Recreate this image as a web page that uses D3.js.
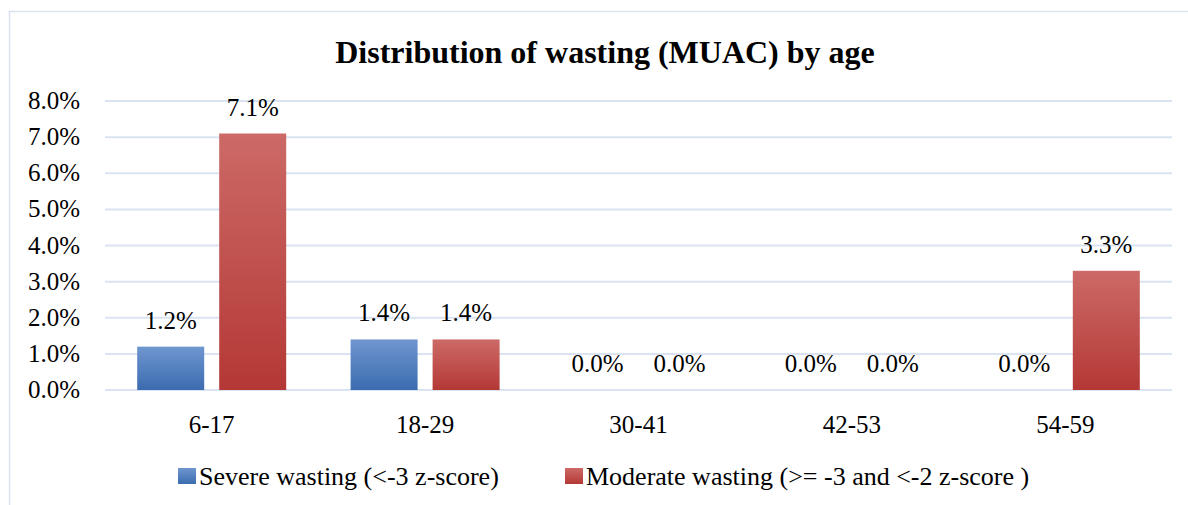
<!DOCTYPE html>
<html>
<head>
<meta charset="utf-8">
<script src="https://cdn.jsdelivr.net/npm/d3@7"></script>
<style>
	body { margin: 0; background: #fff; }
	text { font-family: "Liberation Serif", "Times New Roman", serif; fill: #000; }
</style>
</head>
<body>
<div id="chart"></div>
<script>
var categories = ["6-17", "18-29", "30-41", "42-53", "54-59"];
var severe = [1.2, 1.4, 0.0, 0.0, 0.0];
var moderate = [7.1, 1.4, 0.0, 0.0, 3.3];
var seriesNames = ["Severe wasting (<-3 z-score)", "Moderate wasting (>= -3 and <-2 z-score )"];
var yTicks = [0, 1, 2, 3, 4, 5, 6, 7, 8];

var width = 1188, height = 505;
var margin = {left: 105, right: 16, top: 101, bottom: 115};
var groupWidth = 149;

var svg = d3.select("#chart").append("svg")
	.attr("width", width)
	.attr("height", height);

var defs = svg.append("defs");
var grads = [
	{id: "g-blue", top: "#6f96d0", bottom: "#3b6caf"},
	{id: "g-red", top: "#cc6a67", bottom: "#b43835"}
];
grads.forEach(function(g){
	var lg = defs.append("linearGradient")
		.attr("id", g.id)
		.attr("x1", 0).attr("y1", 0).attr("x2", 0).attr("y2", 1);
	lg.append("stop").attr("offset", "0%").attr("stop-color", g.top);
	lg.append("stop").attr("offset", "100%").attr("stop-color", g.bottom);
});

// chart frame
svg.append("path")
	.attr("d", "M9.5," + height + "V11.5H" + width)
	.attr("fill", "none")
	.attr("stroke", "#d9e2ef")
	.attr("stroke-width", 1.5);

svg.append("text")
	.attr("x", 605)
	.attr("y", 63)
	.attr("text-anchor", "middle")
	.style("font-size", "32px")
	.style("font-weight", "bold")
	.text("Distribution of wasting (MUAC) by age");

var x = d3.scaleBand()
	.domain(categories)
	.range([margin.left, width - margin.right]);

var x1 = d3.scaleBand()
	.domain([0, 1])
	.range([0, groupWidth])
	.paddingInner(0.183);

var y = d3.scaleLinear()
	.domain([0, 8])
	.range([height - margin.bottom, margin.top]);

// gridlines
svg.append("g")
	.selectAll("line")
	.data(yTicks)
	.enter().append("line")
		.attr("x1", margin.left)
		.attr("x2", width - margin.right)
		.attr("y1", function(d){ return y(d); })
		.attr("y2", function(d){ return y(d); })
		.attr("stroke", "#d9e3f2")
		.attr("stroke-width", 2);

// y axis labels
svg.append("g")
	.selectAll("text")
	.data(yTicks)
	.enter().append("text")
		.attr("x", 80)
		.attr("y", function(d){ return y(d) + 8; })
		.attr("text-anchor", "end")
		.style("font-size", "25px")
		.text(function(d){ return d.toFixed(1) + "%"; });

// x labels
svg.append("g")
	.selectAll("text")
	.data(categories)
	.enter().append("text")
		.attr("x", function(d){ return x(d) + x.bandwidth() / 2; })
		.attr("y", 433)
		.attr("text-anchor", "middle")
		.style("font-size", "25px")
		.text(function(d){ return d; });

var rows = categories.map(function(c, i){
	return [
		{cat: c, s: 0, value: severe[i]},
		{cat: c, s: 1, value: moderate[i]}
	];
});

var groups = svg.append("g")
	.selectAll("g")
	.data(rows)
	.enter().append("g")
		.attr("transform", function(d){
			return "translate(" + (x(d[0].cat) + (x.bandwidth() - groupWidth) / 2) + ",0)";
		});

var cells = groups.selectAll("g")
	.data(function(d){ return d; })
	.enter().append("g");

cells.append("rect")
	.attr("x", function(d){ return x1(d.s); })
	.attr("width", x1.bandwidth())
	.attr("y", function(d){ return y(d.value); })
	.attr("height", function(d){ return y(0) - y(d.value); })
	.attr("fill", function(d){ return d.s === 0 ? "url(#g-blue)" : "url(#g-red)"; });

cells.append("text")
	.attr("x", function(d){ return x1(d.s) + x1.bandwidth() / 2; })
	.attr("y", function(d){ return y(d.value) - 18; })
	.attr("text-anchor", "middle")
	.style("font-size", "25px")
	.text(function(d){ return d.value.toFixed(1) + "%"; });

// legend
var legendX = [178, 565];
var legend = svg.append("g")
	.selectAll("g")
	.data(seriesNames)
	.enter().append("g")
		.attr("transform", function(d, i){ return "translate(" + legendX[i] + ",468)"; });

legend.append("rect")
	.attr("width", 18)
	.attr("height", 16)
	.attr("fill", function(d, i){ return i === 0 ? "url(#g-blue)" : "url(#g-red)"; });

legend.append("text")
	.attr("x", 21)
	.attr("y", 17)
	.style("font-size", "26px")
	.text(function(d){ return d; });
</script>
</body>
</html>
